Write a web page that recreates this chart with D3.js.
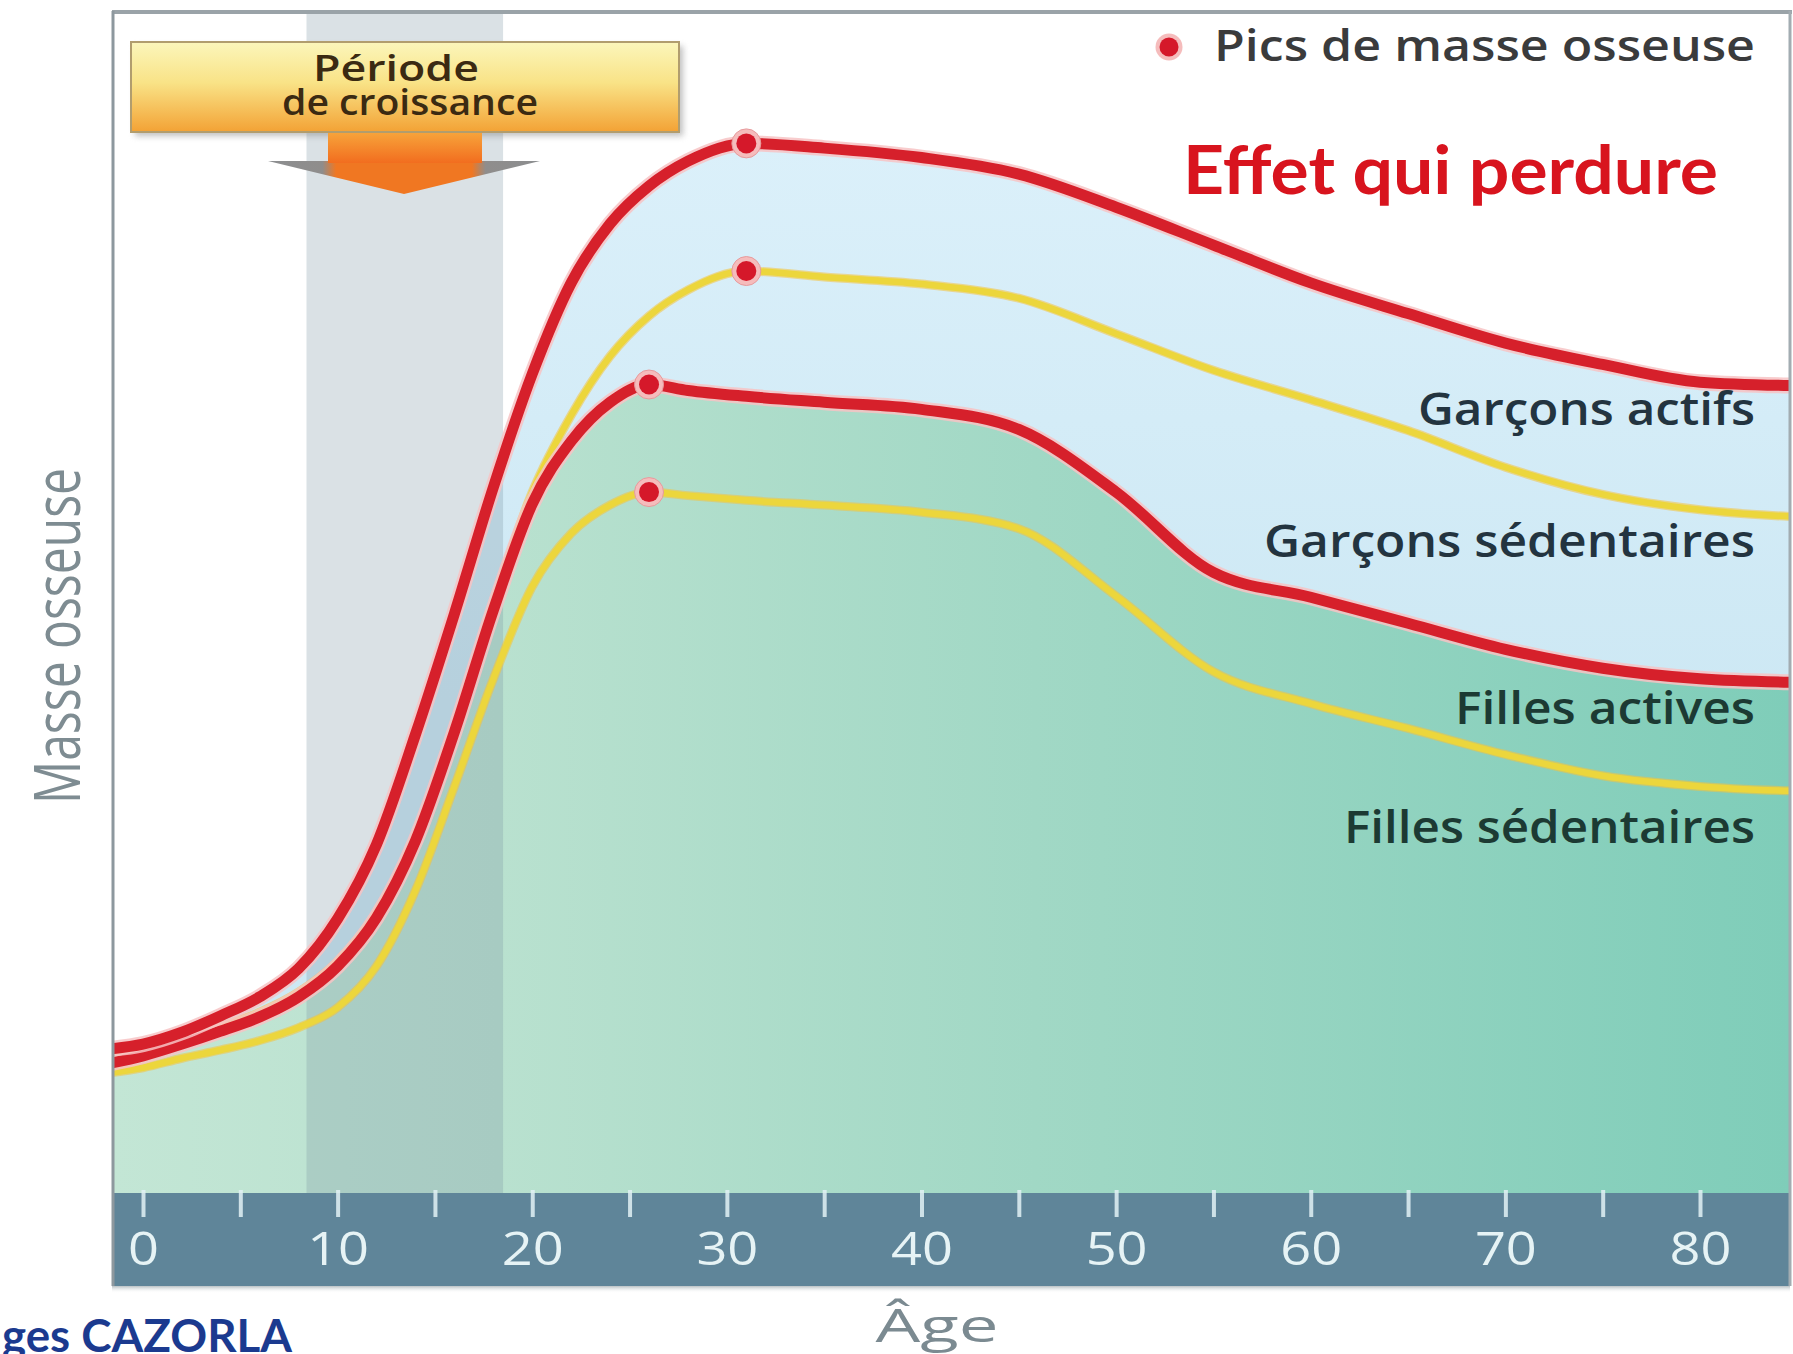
<!DOCTYPE html>
<html>
<head>
<meta charset="utf-8">
<script src="https://cdn.jsdelivr.net/npm/d3@7"></script>
<style>
  html, body { margin: 0; padding: 0; background: #ffffff; }
  svg { display: block; }
</style>
</head>
<body>
<svg id="chart" width="1793" height="1354"></svg>
<script>
// Age grid (years) shared by every curve
const ages = [-1.6, 0, 2, 4, 6, 8, 10, 12, 14, 16, 18, 20, 22, 24, 26, 28, 31, 35, 40, 45, 50, 55, 60, 65, 70, 75, 80, 85];

// Bone mass (relative units, 0–100) for each group
const garconsActifs      = [12.2, 12.6, 13.6, 15.0, 16.6, 19.0, 23.2, 29.5, 38.8, 49.0, 59.7, 69.3, 77.0, 82.0, 85.2, 87.3, 88.8, 88.4, 87.6, 86.2, 83.4, 80.2, 77.0, 74.4, 71.9, 70.1, 68.6, 68.3];
const garconsSedentaires = [11.5, 12.1, 13.0, 14.1, 15.3, 17.0, 19.6, 23.7, 30.2, 39.4, 49.8, 59.3, 65.8, 70.8, 74.2, 76.4, 78.0, 77.5, 76.9, 75.7, 72.7, 69.6, 67.1, 64.5, 61.4, 59.1, 57.8, 57.2];
const fillesActives      = [11.0, 11.6, 12.6, 13.7, 14.9, 16.6, 19.2, 23.3, 29.8, 39.0, 49.3, 58.3, 63.6, 66.9, 68.4, 67.9, 67.4, 66.9, 66.3, 64.6, 59.3, 52.5, 50.4, 48.2, 46.0, 44.4, 43.5, 43.2];
const fillesSedentaires  = [10.2, 10.6, 11.4, 12.1, 12.9, 14.0, 15.7, 19.2, 25.6, 34.4, 43.5, 51.3, 55.8, 58.2, 59.3, 59.0, 58.6, 58.2, 57.6, 56.2, 50.5, 44.1, 41.4, 39.3, 37.1, 35.3, 34.4, 34.0];

// Growth period (years)
const growthPeriod = [8.4, 18.5];

// Axis ticks
const tickValues = [0, 5, 10, 15, 20, 25, 30, 35, 40, 45, 50, 55, 60, 65, 70, 75, 80];
const tickLabels = ["0", "10", "20", "30", "40", "50", "60", "70", "80"];

// Series labels, top to bottom
const seriesLabels = ["Garçons actifs", "Garçons sédentaires", "Filles actives", "Filles sédentaires"];

const svg = d3.select("#chart");
const frame = { left: 112, top: 11, right: 1790, plotBottom: 1193, bottom: 1286 };

const x = d3.scaleLinear().domain([0, 80]).range([143, 1700]);
const y = d3.scaleLinear().domain([0, 100]).range([frame.plotBottom, frame.top]);

const defs = svg.append("defs");

function linearGradient(id, attrs, stops) {
  const gr = defs.append("linearGradient").attr("id", id);
  Object.entries(attrs).forEach(([k, v]) => gr.attr(k, v));
  stops.forEach(([o, c, op]) => {
    const s = gr.append("stop").attr("offset", o).attr("stop-color", c);
    if (op !== undefined) s.attr("stop-opacity", op);
  });
}

linearGradient("tealFill", { gradientUnits: "userSpaceOnUse", x1: frame.left, x2: frame.right, y1: 0, y2: 0 },
  [[0, "#c3e6d5"], [0.23, "#b9e1cf"], [0.55, "#a1d8c5"], [1, "#7fcdb9"]]);
linearGradient("blueFill", { gradientUnits: "userSpaceOnUse", x1: 0, x2: 0, y1: 140, y2: 700 },
  [[0, "#dbf0fa"], [1, "#cde8f4"]]);
linearGradient("boxFill", { x1: 0, x2: 0, y1: 0, y2: 1 },
  [[0, "#fbf6bb"], [0.45, "#f9e387"], [1, "#f3a235"]]);
linearGradient("shaftFill", { x1: 0, x2: 0, y1: 0, y2: 1 },
  [[0, "#f7a33a"], [1, "#f26d1f"]]);
linearGradient("headFill", { x1: 0, x2: 1, y1: 0, y2: 0 },
  [[0, "#8c8e90"], [0.2, "#8f8d8c"], [0.25, "#f07722"], [0.75, "#f07722"], [0.8, "#8f8d8c"], [1, "#8c8e90"]]);
linearGradient("barShadow", { x1: 0, x2: 0, y1: 0, y2: 1 },
  [[0, "#9aa6ab", 0.7], [1, "#ffffff", 0]]);

const blur = defs.append("filter").attr("id", "soft").attr("x", "-10%").attr("y", "-10%").attr("width", "130%").attr("height", "140%");
blur.append("feGaussianBlur").attr("stdDeviation", 3);

defs.append("clipPath").attr("id", "plotClip")
  .append("rect")
  .attr("x", frame.left).attr("y", frame.top)
  .attr("width", frame.right - frame.left).attr("height", frame.plotBottom - frame.top);

// ---------- plot area ----------
const plot = svg.append("g").attr("clip-path", "url(#plotClip)");
plot.append("rect")
  .attr("x", frame.left).attr("y", frame.top)
  .attr("width", frame.right - frame.left).attr("height", frame.plotBottom - frame.top)
  .attr("fill", "#ffffff");

const pts = vals => ages.map((a, i) => [a, vals[i]]);
const area = d3.area().x(d => x(d[0])).y0(y(0)).y1(d => y(d[1])).curve(d3.curveMonotoneX);
const line = d3.line().x(d => x(d[0])).y(d => y(d[1])).curve(d3.curveMonotoneX);

// boys' zone (blue) and girls' zone (teal)
plot.append("path").datum(pts(garconsActifs)).attr("d", area).attr("fill", "url(#blueFill)");
plot.append("path").datum(pts(fillesActives)).attr("d", area).attr("fill", "url(#tealFill)");

// growth period band
plot.append("rect")
  .attr("x", x(growthPeriod[0])).attr("y", frame.top)
  .attr("width", x(growthPeriod[1]) - x(growthPeriod[0]))
  .attr("height", frame.plotBottom - frame.top)
  .attr("fill", "#7a93a1").attr("opacity", 0.28);

// curves: sedentary (yellow) below active (red)
const yellowCurves = [garconsSedentaires, fillesSedentaires];
const redCurves = [fillesActives, garconsActifs];

yellowCurves.forEach(v => {
  plot.append("path").datum(pts(v)).attr("d", line)
    .attr("fill", "none").attr("stroke", "#f6c23a").attr("stroke-width", 9).attr("opacity", 0.55);
  plot.append("path").datum(pts(v)).attr("d", line)
    .attr("fill", "none").attr("stroke", "#ecd63c").attr("stroke-width", 6.5);
});
redCurves.forEach(v => {
  plot.append("path").datum(pts(v)).attr("d", line)
    .attr("fill", "none").attr("stroke", "#f7c3c4").attr("stroke-width", 16).attr("opacity", 0.85);
  plot.append("path").datum(pts(v)).attr("d", line)
    .attr("fill", "none").attr("stroke", "#d6202b").attr("stroke-width", 11);
});

// peak markers
[garconsActifs, garconsSedentaires, fillesActives, fillesSedentaires].forEach(v => {
  const i = d3.maxIndex(v);
  const cx = x(ages[i]), cy = y(v[i]);
  plot.append("circle").attr("cx", cx).attr("cy", cy).attr("r", 14.5).attr("fill", "#f5bcbc").attr("stroke", "#e79a9c").attr("stroke-width", 1);
  plot.append("circle").attr("cx", cx).attr("cy", cy).attr("r", 10).attr("fill", "#d5182a");
});

// ---------- growth period callout ----------
const box = { x: 131, y: 42, w: 548, h: 90 };
svg.append("rect").attr("x", box.x + 4).attr("y", box.y + 4).attr("width", box.w).attr("height", box.h)
  .attr("fill", "#8c8c8c").attr("opacity", 0.55).attr("filter", "url(#soft)");
svg.append("rect").attr("x", box.x).attr("y", box.y).attr("width", box.w).attr("height", box.h)
  .attr("fill", "url(#boxFill)").attr("stroke", "#b19d6e").attr("stroke-width", 2);
svg.append("path").attr("d", "M268,161 L540,161 L404,194 Z").attr("fill", "url(#headFill)");
svg.append("rect").attr("x", 328).attr("y", box.y + box.h + 1).attr("width", 154).attr("height", 163 - (box.y + box.h + 1))
  .attr("fill", "url(#shaftFill)");
svg.append("text").attr("x", 396).attr("y", 81).attr("text-anchor", "middle")
  .attr("font-family", "'Open Sans', sans-serif").attr("font-weight", 600).attr("font-size", 36)
  .attr("fill", "#3b2a12").attr("textLength", 166).attr("lengthAdjust", "spacingAndGlyphs")
  .text("Période");
svg.append("text").attr("x", 410).attr("y", 115).attr("text-anchor", "middle")
  .attr("font-family", "'Open Sans', sans-serif").attr("font-weight", 600).attr("font-size", 36)
  .attr("fill", "#3b2a12").attr("textLength", 256).attr("lengthAdjust", "spacingAndGlyphs")
  .text("de croissance");

// ---------- legend and headline ----------
svg.append("circle").attr("cx", 1169).attr("cy", 47).attr("r", 13.5).attr("fill", "#f5bcbc");
svg.append("circle").attr("cx", 1169).attr("cy", 47).attr("r", 9.5).attr("fill", "#d5182a");
svg.append("text").attr("x", 1214).attr("y", 61)
  .attr("font-family", "'Open Sans', sans-serif").attr("font-weight", 600).attr("font-size", 43)
  .attr("fill", "#3a3b3c").attr("textLength", 541).attr("lengthAdjust", "spacingAndGlyphs")
  .text("Pics de masse osseuse");

svg.append("text").attr("x", 1183).attr("y", 194)
  .attr("font-family", "Lato, sans-serif").attr("font-weight", 700).attr("font-size", 67)
  .attr("fill", "#d8141e").attr("textLength", 535).attr("lengthAdjust", "spacingAndGlyphs")
  .text("Effet qui perdure");

// ---------- series labels ----------
const labelSpecs = [
  { baseline: 425, width: 337, fill: "#233440" },
  { baseline: 557, width: 491, fill: "#233440" },
  { baseline: 724, width: 300, fill: "#1c3a33" },
  { baseline: 843, width: 411, fill: "#1c3a33" }
];
seriesLabels.forEach((t, i) => {
  svg.append("text").attr("x", 1755).attr("y", labelSpecs[i].baseline).attr("text-anchor", "end")
    .attr("font-family", "'Open Sans', sans-serif").attr("font-weight", 600).attr("font-size", 45)
    .attr("fill", labelSpecs[i].fill)
    .attr("textLength", labelSpecs[i].width).attr("lengthAdjust", "spacingAndGlyphs")
    .text(t);
});

// ---------- age axis ----------
svg.append("rect").attr("x", frame.left).attr("y", frame.bottom).attr("width", frame.right - frame.left).attr("height", 7)
  .attr("fill", "url(#barShadow)");
svg.append("rect").attr("x", frame.left).attr("y", frame.plotBottom)
  .attr("width", frame.right - frame.left).attr("height", frame.bottom - frame.plotBottom)
  .attr("fill", "#5f8599");

const axis = d3.axisBottom(x)
  .tickValues(tickValues)
  .tickSize(27)
  .tickPadding(15)
  .tickFormat(d => (tickLabels.includes(String(d)) ? String(d) : ""));

const axisG = svg.append("g").attr("transform", `translate(0,${frame.plotBottom - 3})`).call(axis);
axisG.select(".domain").remove();
axisG.selectAll(".tick line").attr("stroke", "#e2f1f4").attr("stroke-width", 4).attr("opacity", 0.85);
axisG.selectAll(".tick text")
  .attr("fill", "#e6f3f5")
  .attr("font-family", "'Open Sans', sans-serif")
  .attr("font-size", 46)
  .each(function () {
    const s = d3.select(this);
    const txt = s.text();
    if (txt) s.attr("textLength", 31 * txt.length).attr("lengthAdjust", "spacingAndGlyphs");
  });

svg.append("text").attr("x", 937).attr("y", 1342).attr("text-anchor", "middle")
  .attr("font-family", "'Open Sans', sans-serif").attr("font-size", 45)
  .attr("fill", "#7b8a91").attr("textLength", 123).attr("lengthAdjust", "spacingAndGlyphs")
  .text("Âge");

svg.append("text")
  .attr("transform", "translate(80,636) rotate(-90)")
  .attr("text-anchor", "middle")
  .attr("font-family", "'Open Sans', sans-serif").attr("font-size", 64)
  .attr("fill", "#7e8c92").attr("textLength", 336).attr("lengthAdjust", "spacingAndGlyphs")
  .text("Masse osseuse");

// ---------- frame ----------
svg.append("line").attr("x1", frame.left).attr("x2", frame.right + 2).attr("y1", frame.top + 1).attr("y2", frame.top + 1)
  .attr("stroke", "#9aa3a8").attr("stroke-width", 4);
svg.append("line").attr("x1", frame.left + 1).attr("x2", frame.left + 1).attr("y1", frame.top).attr("y2", frame.bottom)
  .attr("stroke", "#8d989e").attr("stroke-width", 3);
svg.append("line").attr("x1", frame.right).attr("x2", frame.right).attr("y1", frame.top).attr("y2", frame.bottom)
  .attr("stroke", "#a2acb1").attr("stroke-width", 3);

// ---------- credit ----------
svg.append("text").attr("x", 2).attr("y", 1352)
  .attr("font-family", "Lato, sans-serif").attr("font-weight", 700).attr("font-size", 45)
  .attr("fill", "#1b3a8f").attr("textLength", 290).attr("lengthAdjust", "spacingAndGlyphs")
  .text("ges CAZORLA");
</script>
</body>
</html>
